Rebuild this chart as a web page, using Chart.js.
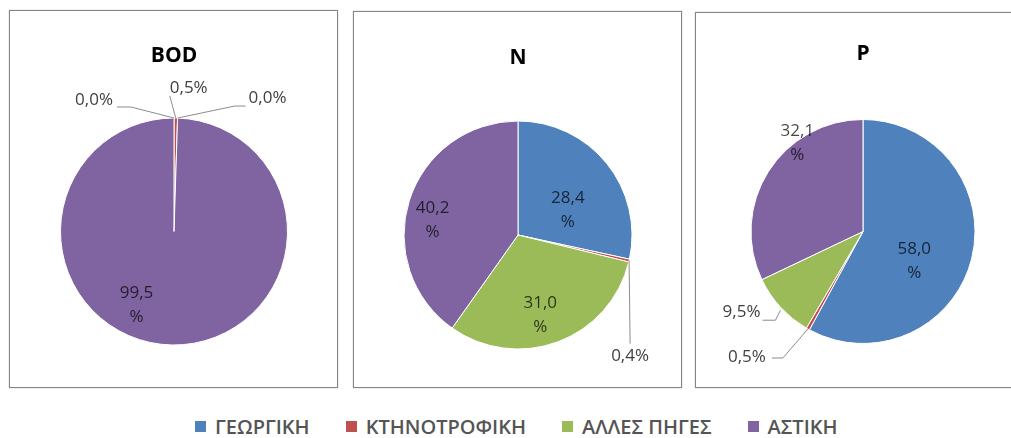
<!DOCTYPE html>
<html>
<head>
<meta charset="utf-8">
<script src="https://cdn.jsdelivr.net/npm/chart.js@4"></script>
<style>
  html, body { margin: 0; padding: 0; background: #fff; width: 1011px; height: 438px; overflow: hidden; }
  .box { position: absolute; border: 1px solid #858585; box-shadow: 0 0 1px #a0a0a0; background: #fff; }
  .box canvas { display: block; }
  #legend { position: absolute; left: 195px; top: 413px; display: flex; align-items: center;
            font-family: "Open Sans", sans-serif; font-size: 20px; font-weight: 600; color: #555; }
  #legend .item { display: flex; align-items: center; margin-right: 36px; }
  #legend .sw { width: 11px; height: 11px; margin-right: 9px; }
</style>
</head>
<body>
<div class="box" style="left:9px;top:10px;"><canvas id="bod" width="327" height="376"></canvas></div>
<div class="box" style="left:353px;top:11px;"><canvas id="nit" width="327" height="375"></canvas></div>
<div class="box" style="left:695px;top:12px;"><canvas id="pho" width="328" height="374"></canvas></div>
<div id="legend"></div>

<script>
// source categories and the share (%) of each in the three loads
const categories = ['ΓΕΩΡΓΙΚΗ', 'ΚΤΗΝΟΤΡΟΦΙΚΗ', 'ΑΛΛΕΣ ΠΗΓΕΣ', 'ΑΣΤΙΚΗ'];
const bodValues = [0.0, 0.5, 0.0, 99.5];
const nValues = [28.4, 0.4, 31.0, 40.2];
const pValues = [58.0, 0.5, 9.5, 32.1];
const chartTitles = ['BOD', 'N', 'P'];

const colors = ['#4F81BD', '#C0504D', '#9BBB59', '#8064A2'];
const FONT = '"Open Sans", sans-serif';
const TITLE_SIZE = 21;

// label placement per slice: inside (r = fraction of radius, da = angle nudge in deg)
// or outside (out = text offset from the arc edge, leader = polyline from the edge)
const bodPlace = [
  { out: [-61, -18], align: 'right', leader: [[0, 0], [-43, -11], [-57, -11]] },
  { out: [-6, -30], align: 'left', leader: [[0, 0], [-6, -22]] },
  { out: [71, -20], align: 'left', leader: [[0, 0], [57, -12], [68, -12]] },
  { r: 0.73, da: 26 }
];
const nPlace = [
  { r: 0.49, da: 12 },
  { out: [1, 96], align: 'center', leader: [[0, 0], [1, 83]] },
  { r: 0.73, da: 5 },
  { r: 0.76, da: -8 }
];
const pPlace = [
  { r: 0.53, da: 16 },
  { out: [-42, 28], align: 'right', leader: [[0, 0], [-25, 29], [-36, 29]] },
  { out: [-20, 5], align: 'right', leader: [[0, 3], [-5, 13], [-18, 13]] },
  { r: 0.98, da: 21 }
];

function fmt(v) {
  return v.toFixed(1).replace('.', ',');
}

const sliceLabels = {
  id: 'sliceLabels',
  afterDatasetsDraw(chart, args, opts) {
    const ctx = chart.ctx;
    const meta = chart.getDatasetMeta(0);
    const values = chart.data.datasets[0].data;
    ctx.save();
    ctx.font = '17px ' + FONT;
    ctx.textBaseline = 'middle';
    meta.data.forEach((arc, i) => {
      const p = opts.place[i];
      const { x, y, startAngle, endAngle, outerRadius } =
        arc.getProps(['x', 'y', 'startAngle', 'endAngle', 'outerRadius'], true);
      const mid = (startAngle + endAngle) / 2;
      if (p.out) {
        const ax = x + Math.cos(mid) * outerRadius;
        const ay = y + Math.sin(mid) * outerRadius;
        ctx.strokeStyle = '#8c8c8c';
        ctx.lineWidth = 1;
        ctx.beginPath();
        p.leader.forEach(([dx, dy], k) => {
          if (k === 0) ctx.moveTo(ax + dx, ay + dy);
          else ctx.lineTo(ax + dx, ay + dy);
        });
        ctx.stroke();
        ctx.fillStyle = '#404040';
        ctx.textAlign = p.align;
        ctx.fillText(fmt(values[i]) + '%', ax + p.out[0], ay + p.out[1]);
      } else {
        const a = mid + p.da * Math.PI / 180;
        const d = p.r * outerRadius;
        const lx = x + Math.cos(a) * d;
        const ly = y + Math.sin(a) * d;
        ctx.fillStyle = 'rgba(0,0,0,0.72)';
        ctx.textAlign = 'center';
        ctx.fillText(fmt(values[i]), lx, ly - 12);
        ctx.fillText('%', lx, ly + 12);
      }
    });
    ctx.restore();
  }
};

// g: pie centre, radius and title centre line, in canvas pixels
function build(id, title, values, place, g) {
  const canvas = document.getElementById(id);
  const W = canvas.width, H = canvas.height;
  const side = 2 * g.r + 1;
  const left = g.cx - side / 2;
  const top = g.cy - side / 2;
  const titleH = TITLE_SIZE * 1.2;
  const padTop = g.titleY - titleH / 2;
  return new Chart(canvas, {
    type: 'pie',
    data: {
      labels: categories,
      datasets: [{
        data: values,
        backgroundColor: colors,
        borderColor: '#ffffff',
        borderWidth: 1
      }]
    },
    options: {
      responsive: false,
      animation: false,
      layout: { padding: { left: left, right: W - left - side, top: 0, bottom: H - top - side } },
      plugins: {
        legend: { display: false },
        tooltip: { enabled: false },
        title: {
          display: true,
          text: title,
          color: '#000',
          font: { family: FONT, size: TITLE_SIZE, weight: 'bold', lineHeight: 1.2 },
          padding: { top: padTop, bottom: top - padTop - titleH }
        },
        sliceLabels: { place: place }
      }
    },
    plugins: [sliceLabels]
  });
}

build('bod', chartTitles[0], bodValues, bodPlace, { cx: 164, cy: 220.5, r: 113.5, titleY: 45 });
build('nit', chartTitles[1], nValues, nPlace, { cx: 164, cy: 223, r: 114, titleY: 46 });
build('pho', chartTitles[2], pValues, pPlace, { cx: 167, cy: 218.5, r: 112, titleY: 41 });

// shared legend under the three pies
const legend = document.getElementById('legend');
categories.forEach((name, i) => {
  const item = document.createElement('div');
  item.className = 'item';
  const sw = document.createElement('span');
  sw.className = 'sw';
  sw.style.background = colors[i];
  const label = document.createElement('span');
  label.textContent = name;
  item.appendChild(sw);
  item.appendChild(label);
  legend.appendChild(item);
});
</script>
</body>
</html>
